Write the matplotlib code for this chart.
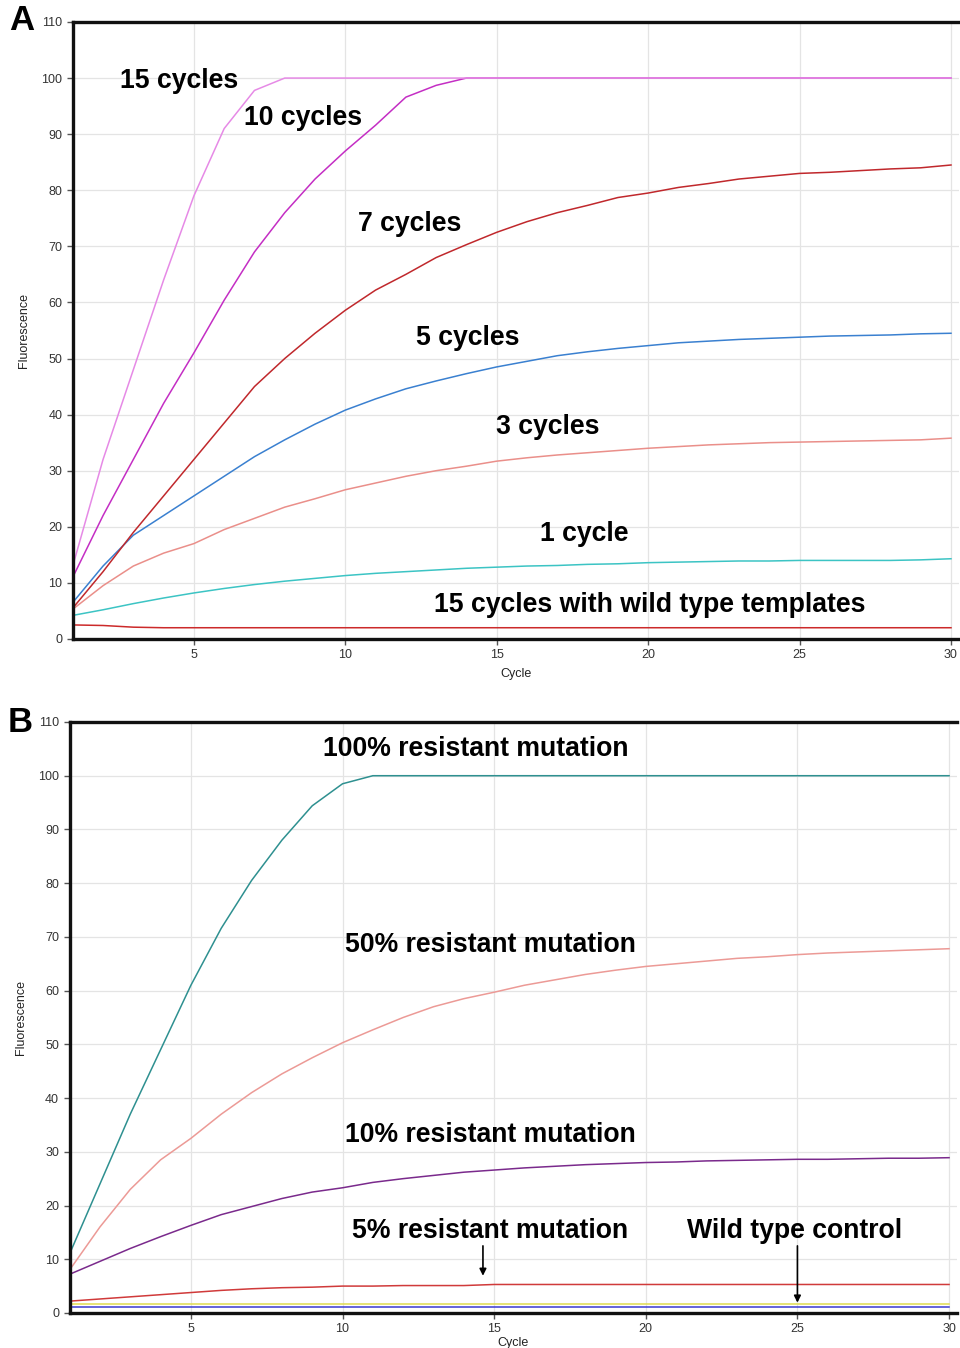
import matplotlib
matplotlib.use("Agg")
import matplotlib.pyplot as plt
import numpy as np

plt.rcParams['font.family'] = ['Liberation Sans', 'DejaVu Sans']

cycles = list(range(1, 31))

# Panel A series
a_15 = [13, 32, 48, 64, 79, 91, 97.8, 100] + [100] * 22
a_10 = [11, 22, 32, 42, 51, 60.4, 69, 76, 82, 87, 91.6, 96.6, 98.7, 100] + [100] * 16
a_7 = [5.5, 12, 19, 25.5, 32, 38.5, 45, 50, 54.5, 58.6, 62.2, 65, 68, 70.3, 72.5,
       74.4, 76, 77.3, 78.7, 79.5, 80.5, 81.2, 82, 82.5, 83, 83.2, 83.5, 83.8, 84, 84.5]
a_5 = [6.5, 13, 18.5, 22, 25.5, 29, 32.5, 35.5, 38.3, 40.8, 42.8, 44.6, 46, 47.3, 48.5,
       49.5, 50.5, 51.2, 51.8, 52.3, 52.8, 53.1, 53.4, 53.6, 53.8, 54, 54.1, 54.2, 54.4, 54.5]
a_3 = [5.3, 9.5, 13, 15.3, 17, 19.5, 21.5, 23.5, 25, 26.6, 27.8, 29, 30, 30.8, 31.7,
       32.3, 32.8, 33.2, 33.6, 34, 34.3, 34.6, 34.8, 35, 35.1, 35.2, 35.3, 35.4, 35.5, 35.8]
a_1 = [4.2, 5.2, 6.3, 7.3, 8.2, 9, 9.7, 10.3, 10.8, 11.3, 11.7, 12.0, 12.3, 12.6, 12.8,
       13, 13.1, 13.3, 13.4, 13.6, 13.7, 13.8, 13.9, 13.9, 14, 14, 14, 14, 14.1, 14.3]
a_wt = [2.5, 2.4, 2.1] + [2.0] * 27

# Panel B series
b_100 = [11, 24, 37, 49, 61, 71.6, 80.5, 88, 94.4, 98.5, 100] + [100] * 19
b_50 = [8, 16, 23, 28.5, 32.5, 37, 41, 44.5, 47.5, 50.3, 52.7, 55, 57, 58.5, 59.7,
        61, 62, 63, 63.8, 64.5, 65, 65.5, 66, 66.3, 66.7, 67, 67.2, 67.4, 67.6, 67.8]
b_10 = [7.2, 9.6, 12, 14.2, 16.3, 18.3, 19.8, 21.3, 22.5, 23.3, 24.3, 25, 25.6, 26.2, 26.6,
        27, 27.3, 27.6, 27.8, 28, 28.1, 28.3, 28.4, 28.5, 28.6, 28.6, 28.7, 28.8, 28.8, 28.9]
b_5 = [2.2, 2.6, 3.0, 3.4, 3.8, 4.2, 4.5, 4.7, 4.8, 5.0, 5.0, 5.1, 5.1, 5.1, 5.3] + [5.3] * 15
b_wt_y = [1.7] * 30
b_wt_b = [1.2] * 30

xticks = [5, 10, 15, 20, 25, 30]
yticks = list(range(0, 111, 10))

fig = plt.figure(figsize=(9.6, 13.48), dpi=100)
axA = fig.add_axes([0.0758, 0.526, 0.9227, 0.4577])
axB = fig.add_axes([0.0725, 0.026, 0.924, 0.4384])


def style(ax, xpad):
    ax.set_xlim(1, 30.25)
    ax.set_ylim(0, 110)
    ax.set_xticks(xticks)
    ax.set_yticks(yticks)
    ax.grid(True, color='#e4e4e4', linewidth=0.9)
    ax.set_axisbelow(True)
    for s in ['left', 'bottom', 'top']:
        ax.spines[s].set_linewidth(2.4)
        ax.spines[s].set_color('#111111')
    ax.spines['right'].set_visible(False)
    ax.tick_params(axis='both', labelsize=9, length=4, width=1, color='#555555',
                   labelcolor='#333333')
    ax.set_ylabel('Fluorescence', fontsize=9, color='#222222', labelpad=8)
    ax.set_xlabel('Cycle', fontsize=9, color='#222222', labelpad=xpad)


style(axA, 5)
style(axB, 1)

lw = 1.1
axA.plot(cycles, a_wt, color='#cc2a2a', lw=lw)
axA.plot(cycles, a_1, color='#3cc4c4', lw=lw)
axA.plot(cycles, a_3, color='#ea8f8a', lw=lw)
axA.plot(cycles, a_5, color='#3a80d0', lw=lw)
axA.plot(cycles, a_7, color='#c0282c', lw=lw)
axA.plot(cycles, a_10, color='#c42ec4', lw=lw)
axA.plot(cycles, a_15, color='#e68ae6', lw=lw)

fsA = 19.2
axA.text(2.56, 99.5, '15 cycles', fontsize=fsA, fontweight='bold', va='center')
axA.text(6.65, 92.9, '10 cycles', fontsize=fsA, fontweight='bold', va='center')
axA.text(10.41, 74.0, '7 cycles', fontsize=fsA, fontweight='bold', va='center')
axA.text(12.33, 53.7, '5 cycles', fontsize=fsA, fontweight='bold', va='center')
axA.text(14.97, 37.8, '3 cycles', fontsize=fsA, fontweight='bold', va='center')
axA.text(16.42, 18.8, '1 cycle', fontsize=fsA, fontweight='bold', va='center')
axA.text(12.92, 6.1, '15 cycles with wild type templates', fontsize=fsA,
         fontweight='bold', va='center')

axB.plot(cycles, b_wt_y, color='#e0dc50', lw=lw)
axB.plot(cycles, b_wt_b, color='#3a3ad0', lw=lw)
axB.plot(cycles, b_5, color='#d03a3a', lw=lw)
axB.plot(cycles, b_10, color='#7a2a8c', lw=lw)
axB.plot(cycles, b_50, color='#ec9a96', lw=lw)
axB.plot(cycles, b_100, color='#2e9090', lw=lw)

axB.text(9.36, 105.0, '100% resistant mutation', fontsize=fsA, fontweight='bold', va='center')
axB.text(10.08, 68.4, '50% resistant mutation', fontsize=fsA, fontweight='bold', va='center')
axB.text(10.08, 33.2, '10% resistant mutation', fontsize=fsA, fontweight='bold', va='center')
axB.text(10.31, 15.3, '5% resistant mutation', fontsize=fsA, fontweight='bold', va='center')
axB.text(21.36, 15.3, 'Wild type control', fontsize=fsA, fontweight='bold', va='center')

arrowprops = dict(arrowstyle='-|>', color='black', lw=1.2, mutation_scale=10)
axB.annotate('', xy=(14.63, 6.4), xytext=(14.63, 13.0), arrowprops=arrowprops)
axB.annotate('', xy=(25.0, 1.4), xytext=(25.0, 13.0), arrowprops=arrowprops)

fig.text(22 / 960, 1 - 20 / 1348, 'A', fontsize=25, fontweight='bold', ha='center', va='center')
fig.text(20 / 960, 1 - 722 / 1348, 'B', fontsize=25, fontweight='bold', ha='center', va='center')

fig.savefig('out.png', dpi=100)
